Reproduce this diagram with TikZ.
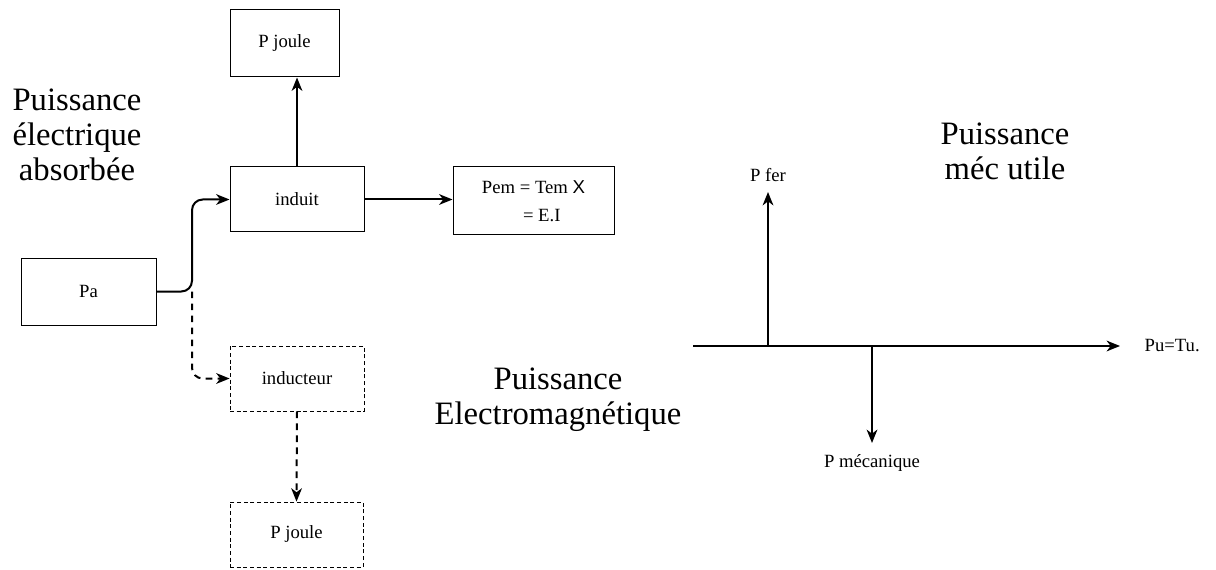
\documentclass[tikz,border=0pt]{standalone}
\usepackage{fontspec}
\setmainfont{Liberation Serif}
\newfontfamily\sansx{Liberation Sans}
\usetikzlibrary{arrows.meta, positioning}

\begin{document}
\begin{tikzpicture}[x=0.75pt, y=-0.75pt,
  box/.style={draw, line width=0.75pt, font=\fontsize{14}{16}\selectfont},
  dbox/.style={box, dash pattern=on 3pt off 2pt, line width=0.6pt},
  big/.style={align=center, font=\fontsize{24.5}{26.25}\selectfont},
  small/.style={font=\fontsize{14}{16}\selectfont},
  flow/.style={-{Stealth[length=10pt,width=8pt,inset=3pt]}, line width=1.5pt}]
  \useasboundingbox (0,0) rectangle (1216,570);

  % boxes
  \node[box, minimum width=81.75pt, minimum height=50.25pt] (pjoule1) at (284.5,43.5) {P joule};
  \node[box, minimum width=100.5pt, minimum height=48.75pt] (induit) at (297,199.5) {induit};
  \node[box, minimum width=120.75pt, minimum height=51pt, align=left,
        font=\fontsize{14}{21}\selectfont] (pem) at (533.5,201)
        {Pem = Tem {\sansx X}\\\hspace*{2.2em}= E.I};
  \node[box, minimum width=101.25pt, minimum height=50.25pt] (pa) at (88.5,291.5) {Pa};
  \node[dbox, minimum width=100.5pt, minimum height=48.75pt] (inducteur) at (297,378.5) {inducteur};
  \node[dbox, minimum width=99.75pt, minimum height=48.75pt] (pjoule2) at (296.5,534.5) {P joule};

  % titles
  \node[big] (absorbee) at (77,135) {Puissance\\électrique\\absorbée};
  \node[big] (electro) at (558,400) {Puissance\\Electromagnétique};
  \node[big] (utile) at (1005,151) {Puissance\\méc utile};

  % arrows on the left
  \coordinate (split) at (192,291.5);
  \draw[flow] (induit.north) -- (induit.north |- pjoule1.south);
  \draw[flow] (induit.east) -- (induit.east -| pem.west);
  \draw[flow, rounded corners=8pt] (pa.east) -- (split) |- (induit.west);
  \draw[flow, dash pattern=on 5pt off 4pt, rounded corners=8pt] (split) |- (inducteur.west);
  \draw[flow, dash pattern=on 5pt off 4pt] (inducteur.south) -- (pjoule2.north);

  % power balance on the right
  \coordinate (ax0) at (693,346);
  \coordinate (ax1) at (1120,346);
  \coordinate (fer0) at (768,346);
  \coordinate (fer1) at (768,192);
  \coordinate (mec0) at (872,346);
  \coordinate (mec1) at (872,443);
  \node[small, anchor=west] (pu) at (1140,346) {Pu=Tu.};
  \node[small] (pfer) at (768,175) {P fer};
  \node[small] (pmeca) at (872,463) {P mécanique};
  \draw[flow] (ax0) -- (ax1);
  \draw[flow] (fer0) -- (fer1);
  \draw[flow] (mec0) -- (mec1);
\end{tikzpicture}
\end{document}
